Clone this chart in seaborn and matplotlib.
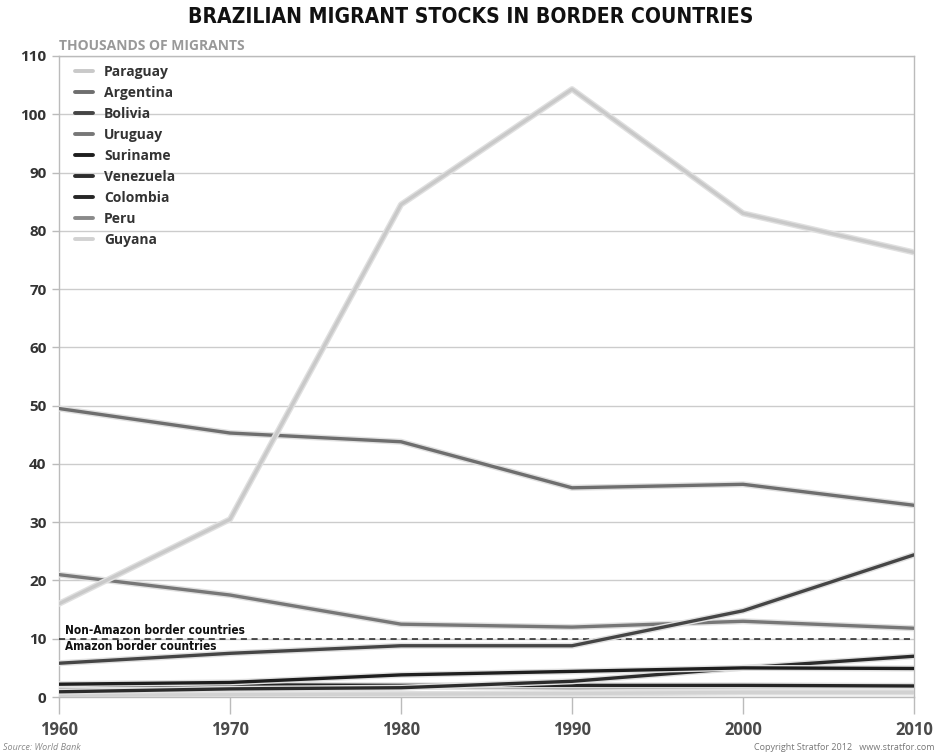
import matplotlib
matplotlib.use("Agg")
import matplotlib.pyplot as plt
import matplotlib.patheffects as pe
from matplotlib import font_manager as fm
import seaborn as sns
import pandas as pd

years = [1960, 1970, 1980, 1990, 2000, 2010]
countries = ["Paraguay", "Argentina", "Bolivia", "Uruguay", "Suriname",
             "Venezuela", "Colombia", "Peru", "Guyana"]
paraguay = [16.0, 30.5, 84.5, 104.3, 83.0, 76.3]
argentina = [49.5, 45.3, 43.8, 35.9, 36.5, 32.9]
bolivia = [5.8, 7.5, 8.8, 8.8, 14.8, 24.4]
uruguay = [21.0, 17.5, 12.5, 12.0, 13.0, 11.8]
suriname = [2.2, 2.5, 3.8, 4.4, 5.0, 4.9]
venezuela = [0.9, 1.4, 1.6, 2.7, 5.0, 7.0]
colombia = [2.0, 2.1, 2.0, 2.0, 2.0, 1.9]
peru = [1.5, 1.6, 1.8, 1.6, 1.8, 1.9]
guyana = [0.3, 0.4, 0.5, 0.6, 0.8, 0.8]
series = [paraguay, argentina, bolivia, uruguay, suriname, venezuela,
          colombia, peru, guyana]
colors = ["#c9c9c9", "#6e6e6e", "#454545", "#777777", "#1e1e1e",
          "#2c2c2c", "#262626", "#8a8a8a", "#d2d2d2"]
yticks = list(range(0, 111, 10))
threshold = 10

rows = []
for c, vals in zip(countries, series):
    for yr, v in zip(years, vals):
        rows.append({"year": yr, "value": v, "country": c})
df = pd.DataFrame(rows)

sns.set_theme(style="white")
plt.rcParams["font.family"] = ["Open Sans", "DejaVu Sans"]

# look for a condensed bold font
cond_font = None
for f in fm.fontManager.ttflist:
    nm = f.name.lower()
    if (("narrow" in nm or "condensed" in nm or str(f.stretch) in ("condensed", "semi-condensed"))
            and (f.weight in (700, "bold") or "bold" in f.fname.lower())):
        cond_font = f.fname
        break


def cond_props(size):
    if cond_font:
        return fm.FontProperties(fname=cond_font, size=size)
    return fm.FontProperties(family="Roboto", weight="bold", size=size)


fig = plt.figure(figsize=(9.37, 7.56), dpi=100)
ax = fig.add_axes([0.063, 0.078, 0.9125, 0.848])

palette = dict(zip(countries, colors))
sns.lineplot(data=df, x="year", y="value", hue="country", hue_order=countries,
             palette=palette, linewidth=2.4, ax=ax, legend=True, sort=True)

lines = ax.get_lines()[:len(countries)]
for i, line in enumerate(lines):
    line.set_path_effects([pe.Stroke(linewidth=4.4, foreground="#e0e0e0"),
                           pe.Normal()])
    line.set_solid_capstyle("round")
    line.set_zorder(10 if i == 0 else 5 - i * 0.1)

ax.axhline(threshold, color="#222222", linestyle=(0, (4, 3)), linewidth=1.1, zorder=4)
t1 = ax.text(1960.35, threshold + 0.3, "Non-Amazon border countries",
             fontproperties=cond_props(10), color="#111111", va="bottom", ha="left",
             zorder=12)
t2 = ax.text(1960.35, threshold - 0.3, "Amazon border countries",
             fontproperties=cond_props(10), color="#111111", va="top", ha="left",
             zorder=12)

ax.set_xlim(1960, 2010)
ax.set_ylim(0, 110)
ax.set_yticks(yticks)
ax.set_xticks(years)
ax.set_xticklabels([str(y) for y in years])
ax.grid(axis="y", color="#cccccc", linewidth=1.0)
ax.grid(axis="x", visible=False)
for s in ax.spines.values():
    s.set_color("#bbbbbb")
    s.set_linewidth(1.0)
ax.tick_params(axis="x", direction="out", length=12, width=1, color="#bbbbbb",
               labelsize=12, labelcolor="#4a4a4a", pad=5)
ax.tick_params(axis="y", direction="out", length=5, width=1, color="#bbbbbb",
               labelsize=11, labelcolor="#333333", pad=4)
ax.tick_params(bottom=True, left=True)
for lab in ax.get_xticklabels() + ax.get_yticklabels():
    lab.set_fontweight("bold")
ax.set_xlabel("")
ax.set_ylabel("")

leg = ax.legend(loc="upper left", bbox_to_anchor=(0.004, 1.005), frameon=False,
                handlelength=1.3, handletextpad=0.8, labelspacing=0.5,
                prop={"weight": "bold", "size": 10})
for t in leg.get_texts():
    t.set_color("#333333")
for h in leg.get_lines():
    h.set_linewidth(2.8)

title = fig.text(0.502, 0.977, "BRAZILIAN MIGRANT STOCKS IN BORDER COUNTRIES",
                 ha="center", va="center", fontproperties=cond_props(17),
                 color="#111111")
fig.text(0.063, 0.939, "THOUSANDS OF MIGRANTS", ha="left", va="center",
         fontsize=10, fontweight="bold", color="#999999")
fig.text(0.003, 0.011, "Source: World Bank", ha="left", va="center",
         fontsize=6.5, style="italic", color="#888888")
fig.text(0.997, 0.011, "Copyright Stratfor 2012   www.stratfor.com", ha="right",
         va="center", fontsize=6.5, color="#777777")

# fit condensed texts close to their widths in the reference
renderer = fig.canvas.get_renderer()
for txt, target in ((title, 565), (t1, 178), (t2, 150)):
    w = txt.get_window_extent(renderer=renderer).width
    if w > 0:
        txt.set_fontsize(txt.get_fontsize() * target / w)

fig.savefig("out.png", dpi=100)
